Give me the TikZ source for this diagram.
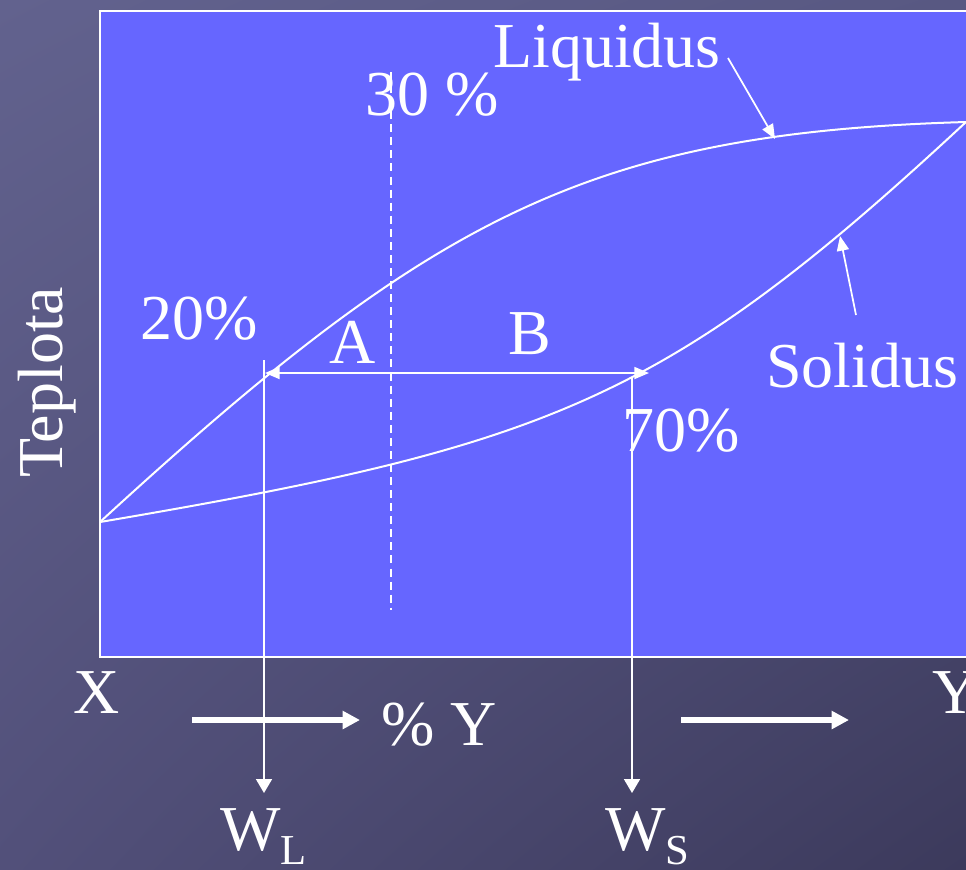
\documentclass[tikz,border=0pt]{standalone}
\usepackage{fontspec}
\setmainfont{Liberation Serif}
\usetikzlibrary{arrows.meta,shadings}
\definecolor{bgUL}{RGB}{98,98,142}
\definecolor{bgUR}{RGB}{88,88,130}
\definecolor{bgLL}{RGB}{82,80,122}
\definecolor{bgLR}{RGB}{60,58,92}
\definecolor{plotblue}{RGB}{102,102,255}
\tikzset{
  lbl/.style={inner sep=0pt, anchor=base west, text=white, font=\fontsize{48pt}{50pt}\selectfont},
  curve/.style={white, line width=1.5pt},
  thin/.style={white, line width=1.3pt},
  tip/.style={-{Triangle[length=11pt,width=9pt]}},
  bigarrow/.style={white, line width=4.5pt, -{Triangle[length=13pt,width=13pt]}}
}
\newcommand{\subtxt}[1]{\raisebox{-11pt}{\fontsize{32pt}{32pt}\selectfont #1}}
\begin{document}
\begin{tikzpicture}[x=0.75pt,y=-0.75pt]
\useasboundingbox (0,0) rectangle (966,869);
\shade[upper left=bgUL, upper right=bgUR, lower left=bgLL, lower right=bgLR] (0,0) rectangle (966,869);
\draw[white, line width=1.5pt, fill=plotblue] (100,11) rectangle (990,657);

% key points
\coordinate (X0) at (100,522);
\coordinate (Y0) at (966,122);
\coordinate (L20) at (265,373);
\coordinate (S70) at (649,373);

% curves
\draw[curve] (X0) .. controls (430,219) and (586,133) .. (Y0);
\draw[curve] (X0) .. controls (550,445.5) and (666,401) .. (Y0);

% dashed 30% line
\coordinate (D1) at (391,72);
\coordinate (D2) at (391,610);
\draw[white, line width=1.3pt, dash pattern=on 6pt off 3.8pt] (D1) -- (D2);

% labels
\node[lbl] (liq) at (493,67) {Liquidus};
\node[lbl] (p30) at (365,115) {30 \%};
\node[lbl] (p20) at (140,339) {20\%};
\node[lbl] (A) at (329,363) {A};
\node[lbl] (B) at (508,354) {B};
\node[lbl] (sol) at (766,387) {Solidus};
\node[lbl] (p70) at (622,451) {70\%};
\node[lbl, rotate=90] (tep) at (62,478) {Teplota};
\node[lbl] (X) at (73,713) {X};
\node[lbl] (pY) at (381,745) {\% Y};
\node[lbl] (Y) at (932,713) {Y};
\node[lbl] (WL) at (220,850) {W\subtxt{L}};
\node[lbl] (WS) at (605,850) {W\subtxt{S}};

% tie line
\draw[thin, {Triangle[length=11pt,width=9pt]}-{Triangle[length=11pt,width=9pt]}] (L20) -- (S70);

% verticals to W_L, W_S
\coordinate (VL1) at (264,360);
\coordinate (VL2) at (264,793);
\coordinate (VS1) at (632,378);
\coordinate (VS2) at (632,793);
\draw[thin, -{Triangle[length=10.5pt,width=12pt]}] (VL1) -- (VL2);
\draw[thin, -{Triangle[length=10.5pt,width=12pt]}] (VS1) -- (VS2);

% pointer arrows
\coordinate (LqA) at (728,58);
\coordinate (LqB) at (775,139);
\coordinate (SoA) at (856,315);
\coordinate (SoB) at (840,236);
\draw[thin, tip] (LqA) -- (LqB);
\draw[thin, tip] (SoA) -- (SoB);

% big arrows
\coordinate (H1a) at (192,720);
\coordinate (H1b) at (360,720);
\coordinate (H2a) at (681,720);
\coordinate (H2b) at (849,720);
\draw[bigarrow] (H1a) -- (H1b);
\draw[bigarrow] (H2a) -- (H2b);
\end{tikzpicture}
\end{document}
